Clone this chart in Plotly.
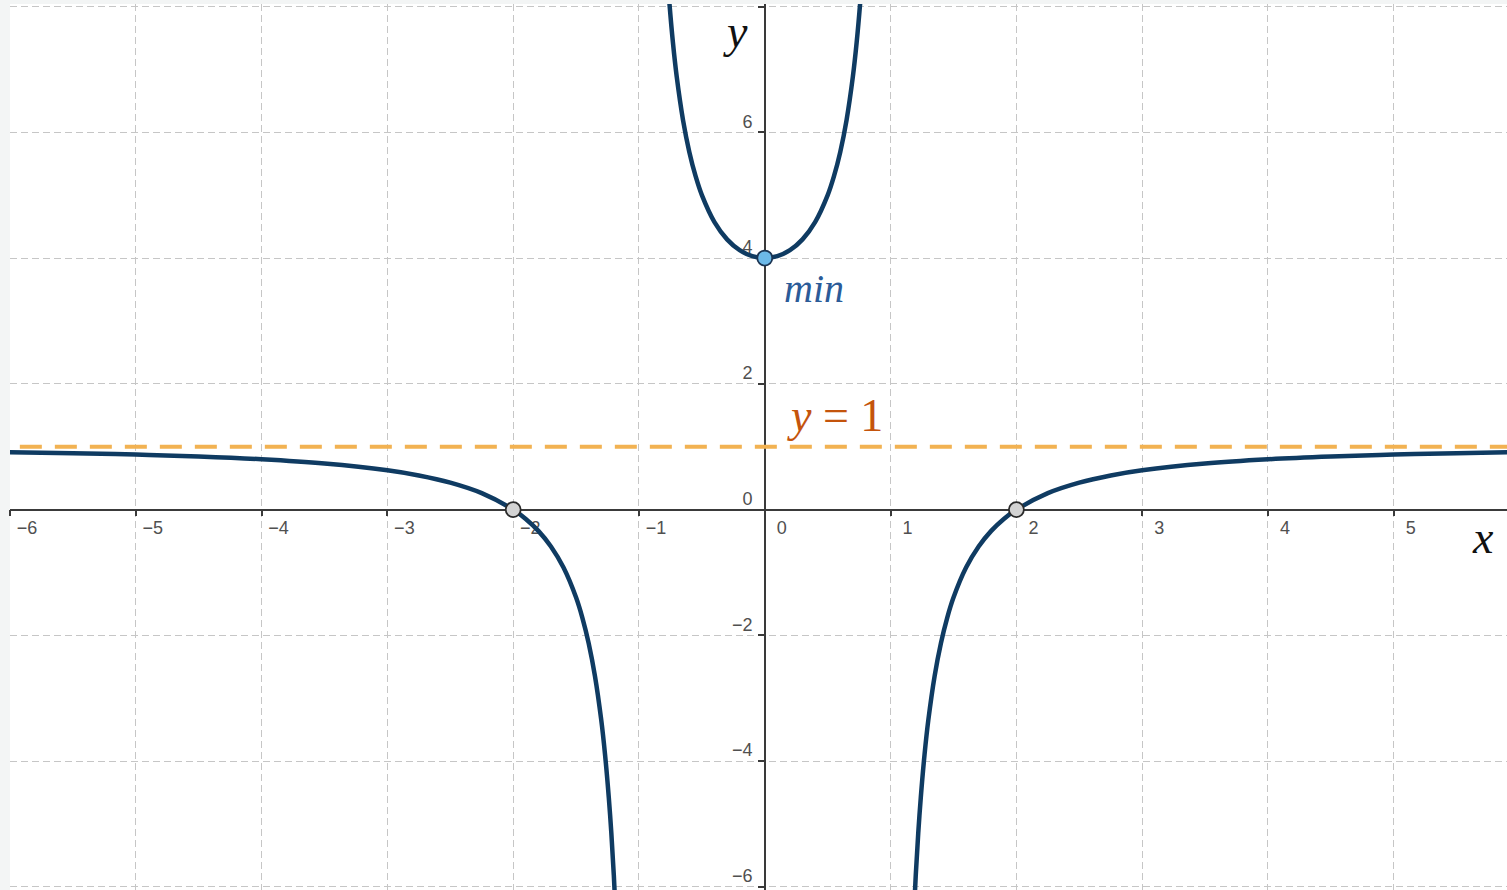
import plotly.graph_objects as go

# ---- data ----
x_left = [-6.2, -5.5, -5.0, -4.5, -4.0, -3.5, -3.0, -2.75, -2.5, -2.25, -2.0, -1.9, -1.8, -1.7,
          -1.6, -1.5, -1.45, -1.4, -1.35, -1.3, -1.27, -1.24, -1.22, -1.2, -1.18]
y_left = [0.920, 0.897, 0.875, 0.844, 0.800, 0.733, 0.625, 0.543, 0.429, 0.262, 0.000, -0.149,
          -0.339, -0.587, -0.923, -1.400, -1.721, -2.125, -2.647, -3.348, -3.895, -4.580,
          -5.143, -5.818, -6.645]

x_mid = [-0.78, -0.76, -0.73, -0.70, -0.65, -0.60, -0.55, -0.50, -0.40, -0.30, -0.20, -0.10, 0.0,
         0.10, 0.20, 0.30, 0.40, 0.50, 0.55, 0.60, 0.65, 0.70, 0.73, 0.76, 0.78]
y_mid = [8.661, 8.102, 7.423, 6.882, 6.195, 5.688, 5.301, 5.000, 4.571, 4.297, 4.125, 4.030, 4.000,
         4.030, 4.125, 4.297, 4.571, 5.000, 5.301, 5.688, 6.195, 6.882, 7.423, 8.102, 8.661]

x_right = [1.18, 1.2, 1.22, 1.24, 1.27, 1.3, 1.35, 1.4, 1.45, 1.5, 1.6, 1.7, 1.8, 1.9, 2.0,
           2.25, 2.5, 2.75, 3.0, 3.5, 4.0, 4.5, 5.0, 5.5, 6.2]
y_right = [-6.645, -5.818, -5.143, -4.580, -3.895, -3.348, -2.647, -2.125, -1.721, -1.400,
           -0.923, -0.587, -0.339, -0.149, 0.000, 0.262, 0.429, 0.543, 0.625, 0.733, 0.800,
           0.844, 0.875, 0.897, 0.920]

asym_x = [-6.2, 6.2]
asym_y = [1, 1]

min_x = [0]
min_y = [4]
zero_x = [-2, 2]
zero_y = [0, 0]

x_ticks = [-6, -5, -4, -3, -2, -1, 0, 1, 2, 3, 4, 5]
y_ticks = [-6, -4, -2, 0, 2, 4, 6, 8]
y_tick_text = ["\u22126", "\u22124", "\u22122", "0", "2", "4", "6", ""]
x_tick_text = [("\u2212" + str(-v)) if v < 0 else str(v) for v in x_ticks]

X_RANGE = [-6.0, 5.9]
Y_RANGE = [-6.05, 8.04]

CURVE = "#0f3b62"
ORANGE = "#f2b252"

fig = go.Figure()

fig.add_trace(go.Scatter(x=asym_x, y=asym_y, mode="lines",
                         line=dict(color=ORANGE, width=4, dash="22px,13px"),
                         hoverinfo="skip", showlegend=False))

for xs, ys in [(x_left, y_left), (x_mid, y_mid), (x_right, y_right)]:
    fig.add_trace(go.Scatter(x=xs, y=ys, mode="lines",
                             line=dict(color=CURVE, width=4.5, shape="spline", smoothing=1.0),
                             showlegend=False))

fig.add_trace(go.Scatter(x=zero_x, y=zero_y, mode="markers",
                         marker=dict(size=15, color="#d3d3d3", line=dict(color="#2a2a2a", width=1.8)),
                         showlegend=False))
fig.add_trace(go.Scatter(x=min_x, y=min_y, mode="markers",
                         marker=dict(size=15, color="#6cb9e8", line=dict(color="#1b3452", width=1.8)),
                         showlegend=False))

xpos = (0 - Y_RANGE[0]) / (Y_RANGE[1] - Y_RANGE[0])
ypos = (0 - X_RANGE[0]) / (X_RANGE[1] - X_RANGE[0])

tickfont = dict(family="Liberation Sans", size=18, color="#505050")

fig.update_layout(
    width=1507, height=890,
    margin=dict(l=10, r=0, t=4, b=0),
    paper_bgcolor="#f3f5f5",
    plot_bgcolor="white",
    showlegend=False,
    xaxis=dict(range=X_RANGE, tickvals=x_ticks, ticktext=x_tick_text,
               showgrid=True, gridcolor="#c6c6c6", gridwidth=1, griddash="7px,4px",
               zeroline=False, showline=True, linecolor="#3a3a3a", linewidth=1.5,
               anchor="free", position=xpos, ticks="outside", ticklen=6,
               tickcolor="#3a3a3a", tickwidth=1.5, ticklabelshift=17, ticklabelstandoff=-4,
               tickfont=tickfont, layer="below traces", fixedrange=True),
    yaxis=dict(range=Y_RANGE, tickvals=y_ticks, ticktext=y_tick_text,
               showgrid=True, gridcolor="#c6c6c6", gridwidth=1, griddash="7px,4px",
               zeroline=False, showline=True, linecolor="#3a3a3a", linewidth=1.5,
               anchor="free", position=ypos, ticks="outside", ticklen=6,
               tickcolor="#3a3a3a", tickwidth=1.5, ticklabelshift=-11, ticklabelstandoff=2,
               tickfont=tickfont, layer="below traces", fixedrange=True),
    annotations=[
        dict(x=-0.235, y=7.60, xref="x", yref="y", text="<i>y</i>", showarrow=False,
             font=dict(family="Liberation Serif", size=46, color="#111111")),
        dict(x=5.71, y=-0.44, xref="x", yref="y", text="<i>x</i>", showarrow=False,
             font=dict(family="Liberation Serif", size=46, color="#111111")),
        dict(x=0.39, y=3.51, xref="x", yref="y", text="<i>min</i>", showarrow=False,
             font=dict(family="Liberation Serif", size=40, color="#2b5b98")),
        dict(x=0.56, y=1.50, xref="x", yref="y", text="<i>y</i> = 1", showarrow=False,
             font=dict(family="Liberation Serif", size=46, color="#c4540c")),
    ],
)

fig.write_html("out.html", config={"displayModeBar": False},
               post_script="document.body.style.margin='0px';document.body.style.overflow='hidden';")
